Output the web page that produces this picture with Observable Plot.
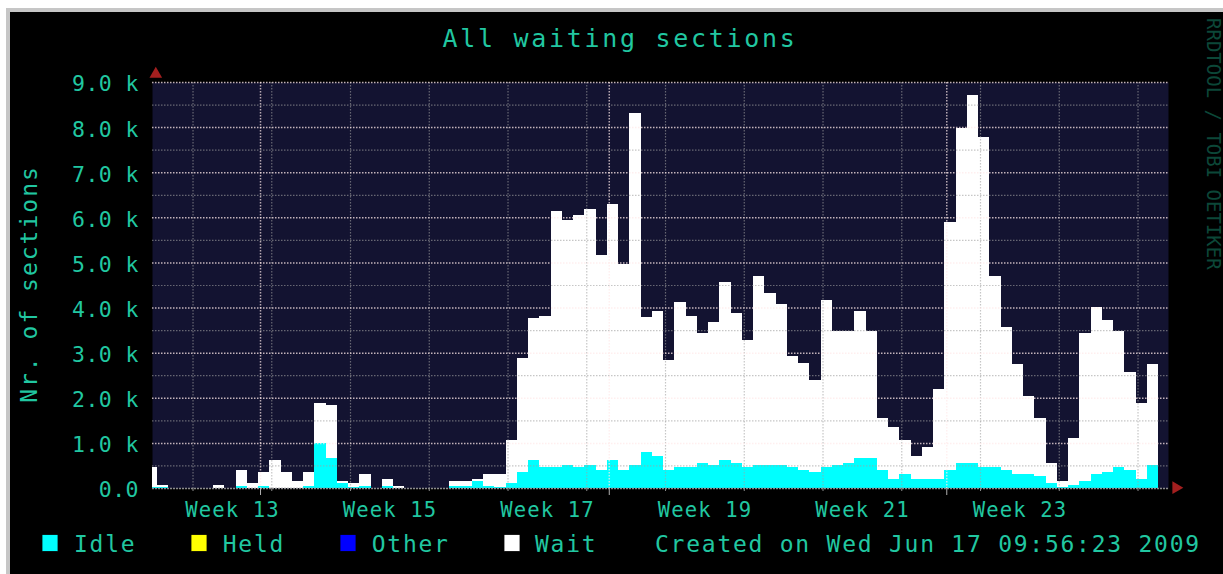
<!DOCTYPE html>
<html><head><meta charset="utf-8">
<script src="https://cdn.jsdelivr.net/npm/d3@7"></script>
<script src="https://cdn.jsdelivr.net/npm/@observablehq/plot@0.6"></script>
<style>
html,body{margin:0;padding:0;background:#fff;width:1223px;height:574px;overflow:hidden}
#frame{position:absolute;left:6px;top:8px;width:1217px;height:566px;box-sizing:border-box;background:#000;border-left:4px solid #c6c6c6;border-top:4px solid #c6c6c6}
#chart{position:absolute;left:0;top:0}
#chart svg{display:block;overflow:visible}
g[font-size="21.5"]{letter-spacing:0.45px}
g[font-size="20.6"]{letter-spacing:1.1px}
</style></head>
<body><div id="frame"></div><div id="chart"></div>
<script>
// ---- data (sections per day) ----
const firstDay = "2009-03-19";
const lastDayEnd = "2009-06-17";
const idle = [30,20,0,0, 0,0,0,0,50,0,50,0,0,0, 50,1000,660,120,20,50,0,50,0,0, 0,0,0,50,50,160,50,30,120,360,
  610,460,460,510,470,510,410,610,410,510, 800,710,410,460,460,560,510,610,560,460,
  510,510,510,460,410,360,470,510,560,660, 660,410,210,310,210,210,210,410,550,550,
  460,460,410,310,310,270,120,20,70,160, 310,360,460,410,210,510];
const wait = [430,40,0,0, 0,0,60,0,360,100,310,610,360,160, 310,890,1180,40,80,260,0,160,50,0, 0,0,0,110,110,50,260,280,940,2530,
  3150,3350,5680,5430,5580,5680,4760,5690,4560,7810, 2980,3210,2430,3660,3360,2870,3160,3950,3310,2820,
  4200,3810,3560,2470,2370,2030,3700,2970,2920,3260, 2820,1140,1150,750,500,690,1980,5490,7420,8160,
  7320,4240,3170,2430,1730,1280,440,140,1030,3270, 3700,3370,3020,2170,1680,2230];
const seriesNames = ["Idle", "Held", "Other", "Wait"];
const seriesColors = ["#00ffff", "#ffff00", "#0000ff", "#ffffff"];

// ---- axes / grid ----
const xDomain = ["2009-03-19T13:52Z", "2009-06-17T21:20Z"];
const gridShiftHours = 4.3;
const weekStarts = ["2009-03-23","2009-03-30","2009-04-06","2009-04-13","2009-04-20","2009-04-27","2009-05-04",
  "2009-05-11","2009-05-18","2009-05-25","2009-06-01","2009-06-08","2009-06-15"];
const monthLines = ["2009-03-29","2009-04-29","2009-05-29"];
const weekLabels = ["Week 13","Week 15","Week 17","Week 19","Week 21","Week 23"];
const weekLabelStarts = ["2009-03-23","2009-04-06","2009-04-20","2009-05-04","2009-05-18","2009-06-01"];
const yMajor = [0,1000,2000,3000,4000,5000,6000,7000,8000,9000];
const yMinor = [500,1500,2500,3500,4500,5500,6500,7500,8500];
const yTickLabels = ["0.0","1.0 k","2.0 k","3.0 k","4.0 k","5.0 k","6.0 k","7.0 k","8.0 k","9.0 k"];

const TEXT = "#21c7a1";
const NAVY = "#131331";
const FONT = "'DejaVu Sans Mono', monospace";

const shift = d => new Date(new Date(d + "T00:00Z").getTime() + gridShiftHours * 3600e3);
const days = d3.utcDay.range(new Date(firstDay + "T00:00Z"), new Date(lastDayEnd + "T00:00Z"));
const table = [];
days.forEach((d, i) => table.push({start: d, end: d3.utcDay.offset(d, 1), series: "Idle", value: idle[i]}));
days.forEach((d, i) => table.push({start: d, end: d3.utcDay.offset(d, 1), series: "Wait", value: wait[i]}));
const weekLines = weekStarts.map(shift);
const monthLineDates = monthLines.map(shift);
const labelRows = weekLabels.map((t, i) => ({label: t, date: new Date(shift(weekLabelStarts[i]).getTime() + 3.5 * 864e5)}));
const yTickRows = yMajor.map((v, i) => ({v, label: yTickLabels[i]}));

const plot = Plot.plot({
  width: 1223, height: 574,
  marginLeft: 152, marginRight: 55, marginTop: 82, marginBottom: 86,
  style: {background: "transparent", fontFamily: FONT, overflow: "visible"},
  x: {type: "utc", domain: xDomain.map(s => new Date(s)), axis: null, label: null},
  y: {domain: [0, 9000], axis: null, label: null},
  color: {domain: seriesNames, range: seriesColors},
  marks: [
    Plot.frame({fill: NAVY, stroke: null}),
    Plot.rectY(table, {x1: "start", x2: "end", y: "value", fill: "series", shapeRendering: "crispEdges", clip: true}),
    Plot.ruleY(yMinor, {stroke: "#a0a0a0", strokeOpacity: 0.6, strokeWidth: 1.2, strokeDasharray: "1.5,1.5"}),
    Plot.ruleX(weekLines, {stroke: "#a0a0a0", strokeOpacity: 0.6, strokeWidth: 1.2, strokeDasharray: "1.5,1.5"}),
    Plot.ruleY(yMajor.slice(1), {stroke: "#ffeaea", strokeOpacity: 0.75, strokeWidth: 1.5, strokeDasharray: "1.5,1.5"}),
    Plot.ruleX(monthLineDates, {stroke: "#ffeaea", strokeOpacity: 0.7, strokeWidth: 1.5, strokeDasharray: "1.5,1.5"}),
    Plot.ruleY([0], {stroke: "#8c8c8c", strokeWidth: 1.5, strokeDasharray: "2,1"}),
    Plot.axisX({ticks: weekLines, tickSize: 3, tickFormat: () => "", stroke: "#8c8c8c"}),
    Plot.axisX({ticks: monthLineDates, tickSize: 7, tickFormat: () => "", stroke: "#b0b0b0"}),
    Plot.text(yTickRows, {y: "v", text: "label", frameAnchor: "left", lineAnchor: "middle", textAnchor: "end", dx: -13.5, dy: 2, fontSize: 21.5, fill: TEXT}),
    Plot.text(labelRows, {x: "date", text: "label", frameAnchor: "bottom", lineAnchor: "middle", dy: 22, fontSize: 20.6, fill: TEXT}),
    Plot.dot([0], {frameAnchor: "top-left", symbol: "triangle", r: 4.7, fill: "#a31f1f", dx: 3.3, dy: -8.5}),
    Plot.dot([0], {frameAnchor: "bottom-right", symbol: "triangle", rotate: 90, r: 4.7, fill: "#a31f1f", dx: 7.5, dy: -0.8})
  ]
});
document.getElementById("chart").appendChild(plot);

// ---- title, axis title, watermark, legend ----
const svg = d3.select(plot);
const txt = (x, y, s, size, ls, opts = {}) => svg.append("text")
  .attr("x", x).attr("y", y).attr("font-family", FONT).attr("font-size", size)
  .attr("fill", opts.fill || TEXT).attr("text-anchor", opts.anchor || "start")
  .attr("transform", opts.transform || null)
  .style("letter-spacing", ls + "px").text(s);
txt(620, 46.7, "All waiting sections", 25, 2.7, {anchor: "middle"});
txt(0, 0, "Nr. of sections", 23, 2, {anchor: "middle", transform: "translate(36.7,284) rotate(-90)"});
txt(0, 0, "RRDTOOL / TOBI OETIKER", 19, 0, {fill: "#0c4738", transform: "translate(1207,18) rotate(90)"});

const legendX = [42, 191, 340, 504];
const legendTextX = [74, 222.7, 371.7, 535];
seriesNames.forEach((name, i) => {
  svg.append("rect").attr("x", legendX[i]).attr("y", 534.5).attr("width", 16).attr("height", 17)
    .attr("fill", seriesColors[i]).attr("stroke", "#000").attr("stroke-width", 0.8);
  txt(legendTextX[i], 551.7, name, 23, 1.75);
});
txt(655, 551.7, "Created on Wed Jun 17 09:56:23 2009", 23, 1.75);
</script></body></html>
